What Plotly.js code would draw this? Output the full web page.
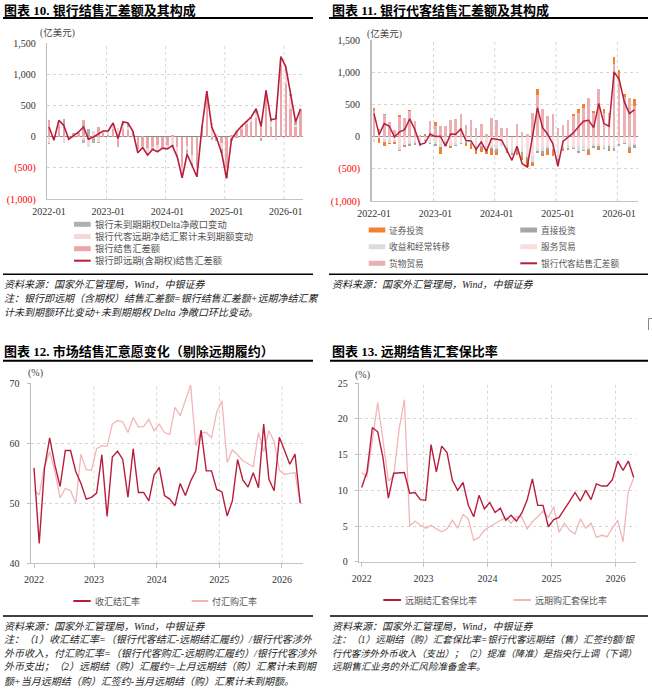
<!DOCTYPE html>
<html><head><meta charset="utf-8">
<script src="https://cdn.plot.ly/plotly-3.0.1.min.js"></script>
<style>html,body{margin:0;padding:0;background:#fff}#chart{width:652px;height:692px}</style>
</head><body><div id="chart"></div>
<script>
// ---------- DATA ----------
const months = ["2022-01","2022-02","2022-03","2022-04","2022-05","2022-06","2022-07","2022-08","2022-09","2022-10","2022-11","2022-12",
"2023-01","2023-02","2023-03","2023-04","2023-05","2023-06","2023-07","2023-08","2023-09","2023-10","2023-11","2023-12",
"2024-01","2024-02","2024-03","2024-04","2024-05","2024-06","2024-07","2024-08","2024-09","2024-10","2024-11","2024-12",
"2025-01","2025-02","2025-03","2025-04","2025-05","2025-06","2025-07","2025-08","2025-09","2025-10","2025-11","2025-12",
"2026-01","2026-02","2026-03","2026-04"];
const monthTicks = ["2022-01","2023-01","2024-01","2025-01","2026-01"];
const yearTicks = ["2022","2023","2024","2025","2026"];

// Chart 10
const settle10 = [270,-20,180,150,-40,40,60,260,-60,-40,150,60,30,120,-170,120,110,60,-200,-150,-190,-170,-140,-160,-130,20,-170,-480,-150,-300,-500,150,600,-60,-50,-100,-500,20,80,120,200,240,300,230,650,150,260,1150,850,450,150,420];
const fwd10 = [-110,-30,50,-100,-10,-30,10,-60,-110,90,-90,30,60,90,140,60,50,20,-50,-30,-80,-20,-80,-20,-50,-140,-130,-150,-60,-130,-120,-20,100,200,40,-100,-120,-40,20,40,30,50,80,-30,60,90,-60,100,200,200,40,20];
const delta10 = [-6,-8,30,130,7,11,4,-46,127,-55,-12,0,0,8,-2,59,58,10,-10,5,-28,-12,-25,-6,-17,-24,-24,-30,-72,-43,-24,14,29,14,-22,-60,-50,-23,-26,5,15,24,67,-35,29,31,87,32,72,36,44,7];
const total10 = [154,-58,260,180,-43,21,74,154,-43,-5,48,90,90,218,-32,239,218,90,-260,-175,-298,-202,-245,-186,-197,-144,-324,-660,-282,-473,-644,144,729,154,-32,-260,-670,-43,74,165,245,314,447,165,739,271,287,1282,1122,686,234,447];

// Chart 11
const goods11 = [390,100,330,220,100,300,290,390,238,20,10,238,160,160,160,254,270,357,176,254,140,192,47,295,254,135,135,0,202,67,36,373,640,435,326,347,140,187,264,316,360,450,606,360,746,370,368,1120,900,620,606,480];
const services11 = [-60,-10,-40,-60,-60,-160,-100,-90,-70,-60,-40,-80,-90,-120,-60,-110,-100,-80,-70,-80,-120,-110,-150,-150,-140,-110,-130,-200,-150,-180,-260,-300,-200,-160,-140,-150,-280,-140,-130,-150,-150,-150,-170,-110,-120,-130,-120,-150,-100,-80,-120,-110];
const income11 = [-20,-5,-40,-40,-20,-50,-30,-30,-30,-35,-10,-20,-20,-34,-25,-30,-30,-20,-20,-20,-40,-30,-50,-30,-50,-40,-40,-60,-50,-60,-50,-90,-30,-60,-40,-40,-60,-40,-40,-20,-70,-60,-20,-40,-20,-50,-30,-30,-20,-20,-40,-20];
const direct11 = [20,15,25,10,-10,-20,-10,-20,-30,-10,-20,-10,-30,-10,-15,-10,-20,-20,-20,-20,-20,-40,-40,-20,-50,0,-20,-20,-40,-60,-40,-20,-30,-50,-50,-40,-60,-30,-20,-20,-30,-20,-40,-30,-20,-20,-50,-50,-30,-20,-30,-50];
const securities11 = [40,-80,-70,-10,-20,40,-20,30,0,-40,26,0,60,-110,-50,-30,0,0,-30,-70,-90,-60,-30,-80,-50,0,-70,15,-50,-60,-120,-40,106,-30,-60,-70,-30,-20,-20,30,75,63,-50,39,-50,55,-20,118,141,48,-70,105];
const total11 = [357,31,202,161,-5,73,109,275,109,-124,-98,41,0,5,-150,41,36,119,-62,-67,-197,-83,-228,-31,-41,-57,-212,-368,-150,-420,-471,-5,446,140,36,-109,-461,-73,-5,57,150,238,254,140,513,202,161,1005,886,539,357,420];

// Chart 12
const settleRate = [55.9,43.3,55.8,60.9,56.4,52.8,58.8,58.8,55.3,53.3,50.7,51.0,51.7,58.1,47.8,57.7,58.7,57.3,51.0,59.1,51.8,51.8,50.4,54.7,56.0,51.3,50.7,49.6,53.3,51.3,53.7,55.4,62.2,55.4,55.4,52.3,51.9,47.9,50.4,57.3,53.9,52.7,55.1,52.6,63.2,54.0,52.1,61.0,58.8,56.5,58.2,50.0];
const purchaseRate = [52.2,51.4,56.1,58.6,55.3,50.9,52.5,52.1,50.0,58.2,55.6,55.5,59.1,59.6,59.5,63.2,63.8,63.6,61.8,64.3,62.7,62.8,64.0,62.1,63.2,61.8,61.5,66.0,64.6,67.2,69.7,59.6,61.8,61.8,60.9,65.2,67.1,56.8,58.9,58.1,57.1,56.6,56.1,61.8,58.6,62.1,60.3,55.5,54.8,55.0,55.1,50.0];

// Chart 13
const hedgeSettle = [10.4,12.6,18.8,18.2,14.5,8.9,12.4,12.5,12.5,9.6,9.7,8.7,8.6,16.4,12.6,16.2,15.3,11.4,10.0,11.1,7.9,6.3,9.3,7.4,8.3,6.9,7.5,5.8,6.5,5.7,6.8,8.6,11.6,7.9,7.9,4.9,5.9,6.2,7.3,8.5,9.7,8.5,10.0,8.7,10.9,10.6,10.6,11.5,14.1,12.8,14.1,11.8];
const hedgePurchase = [12.5,11.9,17.0,22.3,17.0,11.3,12.0,18.5,22.7,5.0,5.7,5.1,4.7,5.1,4.6,4.2,4.6,5.8,4.7,6.6,6.0,3.0,3.4,4.4,4.9,5.4,5.8,6.2,5.4,6.3,6.3,4.6,5.6,6.3,7.1,6.2,7.7,4.1,5.4,4.4,3.9,6.0,4.7,5.4,3.4,3.7,3.5,4.7,5.8,2.8,9.9,11.7];

// ---------- HELPERS ----------
const W = 652, H = 692;
const X = p => p / W;
const Y = p => 1 - p / H;
const idx = months.map((m, i) => i);
const tickPos = monthTicks.map(t => months.indexOf(t));

const SERIF = 'Liberation Serif, Noto Sans CJK SC, serif';
const RED = '#B81E3C';
const PINK = '#F2B6B8';

function bar(y, color, xa, ya) {
  return {type:'bar', x:idx, y:y, xaxis:xa, yaxis:ya, width:0.5, marker:{color:color, line:{width:0}}, hoverinfo:'skip'};
}
function line(y, color, xa, ya, w) {
  return {type:'scatter', mode:'lines', x:idx, y:y, xaxis:xa, yaxis:ya, line:{color:color, width:w||1.5}, hoverinfo:'skip'};
}

const traces = [
  bar(settle10, '#EBA6AA', 'x', 'y'),
  bar(fwd10, '#F8D7DA', 'x', 'y'),
  bar(delta10, '#B0B0B0', 'x', 'y'),
  line(total10, RED, 'x', 'y', 1.6),
  bar(goods11, '#EBB0B1', 'x2', 'y2'),
  bar(services11, '#F9DEDF', 'x2', 'y2'),
  bar(income11, '#DCDCDC', 'x2', 'y2'),
  bar(direct11, '#A6A6A6', 'x2', 'y2'),
  bar(securities11, '#F2822F', 'x2', 'y2'),
  line(total11, RED, 'x2', 'y2', 1.5),
  line(purchaseRate, PINK, 'x3', 'y3', 1.3),
  line(settleRate, RED, 'x3', 'y3', 1.4),
  line(hedgePurchase, PINK, 'x4', 'y4', 1.3),
  line(hedgeSettle, RED, 'x4', 'y4', 1.4)
];

const tickFont = {family:SERIF, size:10, color:'#333'};
const red = s => '<span style="color:#FF0000">' + s + '</span>';
const moneyVals = [-1000,-500,0,500,1000,1500];
const moneyText = [red('(1,000)'), red('(500)'), '0', '500', '1,000', '1,500'];

function xAxis(dom, range, anchor, tv, tt, ticks) {
  return {domain:dom, range:range, anchor:anchor, tickvals:tv, ticktext:tt, showgrid:false, zeroline:false,
    showline:true, linecolor:'#C4C4C4', linewidth:1, ticks:ticks?'outside':'', ticklen:4, tickcolor:'#C4C4C4',
    tickfont:tickFont, ticklabelstandoff:3, fixedrange:true};
}
function yAxis(dom, range, anchor, tv, tt, ticks) {
  return {domain:dom, range:range, anchor:anchor, tickvals:tv, ticktext:tt, showgrid:true, gridcolor:'#D6D6D6',
    griddash:'dot', gridwidth:1, zeroline:false, showline:true, linecolor:'#BDBDBD', linewidth:1.5,
    ticks:ticks?'outside':'', ticklen:3, tickcolor:'#BDBDBD', tickfont:tickFont, ticklabelstandoff:ticks?5:8, fixedrange:true};
}

const layout = {
  width:W, height:H, margin:{l:0, r:0, t:0, b:0}, paper_bgcolor:'#fff', plot_bgcolor:'rgba(0,0,0,0)',
  showlegend:false, barmode:'relative', bargap:0,
  font:{family:SERIF, size:10, color:'#333'},
  xaxis: xAxis([X(47.3), X(302.5)], [-0.345, 51.4], 'y', tickPos, monthTicks, false),
  yaxis: yAxis([Y(199), Y(43)], [-1000, 1500], 'x', moneyVals, moneyText, false),
  xaxis2: xAxis([X(371.5), X(638)], [-0.49, 51.68], 'y2', tickPos, monthTicks, false),
  yaxis2: yAxis([Y(201), Y(40)], [-1000, 1500], 'x2', moneyVals, moneyText, false),
  xaxis3: xAxis([X(31), X(303)], [-0.575, 51.53], 'y3', [0, 11.5, 23.5, 35.5, 47.5], yearTicks, true),
  yaxis3: yAxis([Y(563.3), Y(383.3)], [40, 70], 'x3', [40,50,60,70], ['40','50','60','70'], true),
  xaxis4: xAxis([X(359.3), X(636)], [-0.45, 51.43], 'y4', [0, 11.6, 23.6, 35.6, 47.6], yearTicks, true),
  yaxis4: yAxis([Y(561.7), Y(383.3)], [0, 25], 'x4', [0,5,10,15,20,25], ['0','5','10','15','20','25'], true),
  shapes: [], annotations: []
};
layout.yaxis.zeroline = true; layout.yaxis.zerolinecolor = '#8C8C8C'; layout.yaxis.zerolinewidth = 1;
layout.yaxis2.zeroline = true; layout.yaxis2.zerolinecolor = '#8C8C8C'; layout.yaxis2.zerolinewidth = 1;

const S = layout.shapes, A = layout.annotations;
// vertical dotted gridlines
function vgrid(xa, ya, positions) {
  positions.forEach(p => S.push({type:'line', xref:xa, yref:ya + ' domain', x0:p, x1:p, y0:0, y1:1,
    line:{color:'#D6D6D6', width:1, dash:'dot'}, layer:'below'}));
}
vgrid('x', 'y', [11.65, 23.65, 35.65, 47.65]);
vgrid('x2', 'y2', [11.65, 23.65, 35.65, 47.65]);
vgrid('x3', 'y3', [11.5, 23.5, 35.5, 47.5]);
vgrid('x4', 'y4', [11.6, 23.6, 35.6, 47.6]);

function hline(x0, x1, y, w) {
  S.push({type:'line', xref:'paper', yref:'paper', x0:X(x0), x1:X(x1), y0:Y(y), y1:Y(y), line:{color:'#000', width:w}});
}
hline(3, 313, 18, 2); hline(329, 648, 18, 2);
hline(3, 313, 274.3, 1.5); hline(329, 648, 274.3, 1.5);
hline(3, 313, 360.7, 2); hline(330, 648, 360.7, 2);
hline(3, 313, 616, 1.5); hline(330, 648, 616, 1.5);
// small bracket mark at the right edge
S.push({type:'path', xref:'paper', yref:'paper', path:'M ' + X(652) + ' ' + Y(318.5) + ' L ' + X(648.5) + ' ' + Y(318.5) + ' L ' + X(648.5) + ' ' + Y(330),
  line:{color:'#888', width:1}});

function txt(x, y, text, size, color, extra) {
  A.push(Object.assign({xref:'paper', yref:'paper', x:X(x), y:Y(y), xanchor:'left', yanchor:'middle', text:text,
    showarrow:false, borderpad:0, font:{family:SERIF, size:size, color:color}}, extra || {}));
}
function swatch(x0, x1, y, color, h) {
  S.push({type:'rect', xref:'paper', yref:'paper', x0:X(x0), x1:X(x1), y0:Y(y + h/2), y1:Y(y - h/2), fillcolor:color, line:{width:0}});
}
function swline(x0, x1, y, color) {
  S.push({type:'line', xref:'paper', yref:'paper', x0:X(x0), x1:X(x1), y0:Y(y), y1:Y(y), line:{color:color, width:2}});
}

// titles
txt(3, 10, '<b>图表 10. 银行结售汇差额及其构成</b>', 13, '#000');
txt(331, 10, '<b>图表 11. 银行代客结售汇差额及其构成</b>', 13, '#000');
txt(3, 351, '<b>图表 12. 市场结售汇意愿变化（剔除远期履约）</b>', 13, '#000');
txt(331, 351, '<b>图表 13. 远期结售汇套保比率</b>', 13, '#000');

// unit labels
txt(39, 33, '(亿美元)', 9.5, '#444');
txt(366, 33.5, '(亿美元)', 9.5, '#444');
txt(26.5, 373.5, '(%)', 10, '#444');
txt(354, 374.5, '(%)', 10, '#444');

// legend chart 10
const lg = '#555';
swatch(74, 90.7, 224.3, '#B0B0B0', 5); txt(94, 224.3, '银行未到期期权Delta净敞口变动', 9.3, lg);
swatch(74, 90.7, 236.5, '#F8D7DA', 5); txt(94, 236.5, '银行代客远期净结汇累计未到期额变动', 9.3, lg);
swatch(74, 90.7, 248.7, '#EBA6AA', 5); txt(94, 248.7, '银行结售汇差额', 9.3, lg);
swline(74, 90.7, 260.7, RED); txt(94, 260.7, '银行即远期(含期权)结售汇差额', 9.3, lg);

// legend chart 11
swatch(368.7, 385.3, 230, '#F2822F', 5); txt(388, 230, '证券投资', 8.7, lg);
swatch(520.3, 537, 230, '#A6A6A6', 5); txt(539.5, 230, '直接投资', 8.7, lg);
swatch(368.7, 385.3, 246.7, '#DCDCDC', 5); txt(388, 246.7, '收益和经常转移', 8.7, lg);
swatch(520.3, 537, 246.7, '#F9DEDF', 5); txt(539.5, 246.7, '服务贸易', 8.7, lg);
swatch(368.7, 385.3, 263.3, '#EBB0B1', 5); txt(388, 263.3, '货物贸易', 8.7, lg);
swline(520.3, 537, 263.3, RED); txt(539.5, 263.3, '银行代客结售汇差额', 8.7, lg);

// legend chart 12 / 13
swline(73.3, 90.7, 601, RED); txt(93.5, 601, '收汇结汇率', 9, lg);
swline(191.7, 208.3, 601, PINK); txt(211, 601, '付汇购汇率', 9, lg);
swline(383.3, 401, 600, RED); txt(403.5, 600, '远期结汇套保比率', 9, lg);
swline(513.7, 531, 600, PINK); txt(533.5, 600, '远期购汇套保比率', 9, lg);

// sources and notes
const src = '<i>资料来源：国家外汇管理局，Wind，中银证券</i>';
const nc = '#222';
txt(3, 284.3, src, 10, nc);
txt(3, 298.3, '<i>注：银行即远期（含期权）结售汇差额=银行结售汇差额+远期净结汇累</i>', 10, nc);
txt(3, 312.7, '<i>计未到期额环比变动+未到期期权 Delta 净敞口环比变动。</i>', 10, nc);
txt(331, 284.3, src, 10, nc);
txt(3, 626, src, 10, nc);
txt(3, 639.3, '<i>注：（1）收汇结汇率=（银行代客结汇-远期结汇履约）/银行代客涉外</i>', 10, nc);
txt(3, 653.3, '<i>外币收入，付汇购汇率=（银行代客购汇-远期购汇履约）/银行代客涉外</i>', 10, nc);
txt(3, 666.7, '<i>外币支出；（2）远期结（购）汇履约=上月远期结（购）汇累计未到期</i>', 10, nc);
txt(3, 681, '<i>额+当月远期结（购）汇签约-当月远期结（购）汇累计未到期额。</i>', 10, nc);
txt(331, 626, src, 10, nc);
txt(331, 639.3, '<i>注：（1）远期结（购）汇套保比率=银行代客远期结（售）汇签约额/银</i>', 9.6, nc);
txt(331, 653.3, '<i>行代客涉外外币收入（支出）；（2）提准（降准）是指央行上调（下调）</i>', 9.4, nc);
txt(331, 666.7, '<i>远期售汇业务的外汇风险准备金率。</i>', 9.6, nc);

Plotly.newPlot('chart', traces, layout, {staticPlot:true, displayModeBar:false});
</script>
</body></html>
